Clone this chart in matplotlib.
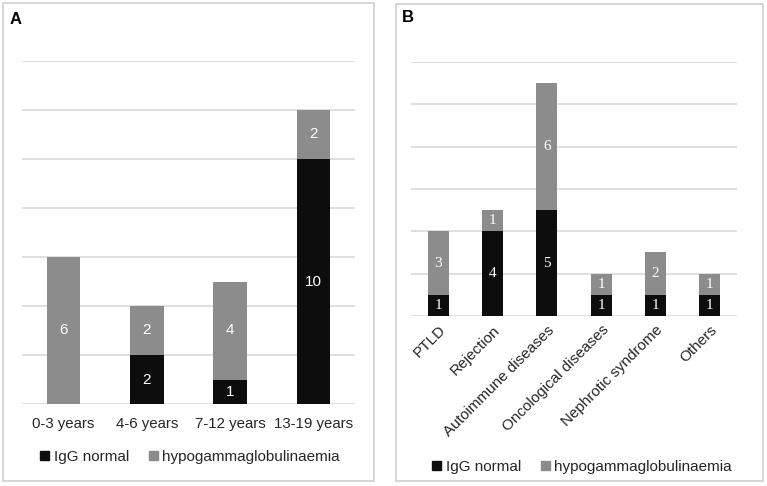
import matplotlib.pyplot as plt
from matplotlib.patches import Rectangle

# panel A data
age_groups = ['0-3 years', '4-6 years', '7-12 years', '13-19 years']
age_normal = [0, 2, 1, 10]
age_hypo = [6, 2, 4, 2]

# panel B data
indications = ['PTLD', 'Rejection', 'Autoimmune diseases', 'Oncological diseases',
               'Nephrotic syndrome', 'Others']
ind_normal = [1, 4, 5, 1, 1, 1]
ind_hypo = [3, 1, 6, 1, 2, 1]

BLACK = '#0d0d0d'
GRAY = '#8c8c8c'
GRID = '#d9d9d9'
W, H = 767, 486

plt.rcParams['font.family'] = ['Liberation Sans', 'DejaVu Sans']
fig = plt.figure(figsize=(W / 100, H / 100), dpi=100)


def px_axes(x0, x1, ytop, ybot):
    return fig.add_axes([x0 / W, (H - ybot) / H, (x1 - x0) / W, (ybot - ytop) / H])


def border(x0, x1, ytop, ybot):
    fig.patches.append(Rectangle((x0 / W, (H - ybot) / H), (x1 - x0) / W, (ybot - ytop) / H,
                                 transform=fig.transFigure, fill=False,
                                 edgecolor='#d0d0d0', linewidth=1.2))


def stacked(ax, cats, normal, hypo, width, ymax, step, label_font):
    x = range(len(cats))
    ax.bar(x, normal, width, color=BLACK, zorder=3)
    ax.bar(x, hypo, width, bottom=normal, color=GRAY, zorder=3)
    for i in x:
        if normal[i] > 0:
            ax.text(i, normal[i] / 2, str(normal[i]), ha='center', va='center',
                    color='white', zorder=4, **label_font)
        if hypo[i] > 0:
            ax.text(i, normal[i] + hypo[i] / 2, str(hypo[i]), ha='center', va='center',
                    color='white', zorder=4, **label_font)
    ax.set_ylim(0, ymax)
    ax.set_xlim(-0.5, len(cats) - 0.5)
    for yv in range(0, ymax + 1, step):
        ax.axhline(yv, color=GRID, linewidth=1.2, zorder=1)
    for s in ax.spines.values():
        s.set_visible(False)
    ax.set_yticks([])
    ax.tick_params(axis='x', length=0)


# panel A
border(3, 374, 3, 481)
fig.text(10 / W, 1 - 20 / H, 'A', fontsize=12, fontweight='bold', ha='left', va='center')
axA = px_axes(22, 355, 61, 404)
stacked(axA, age_groups, age_normal, age_hypo, 0.4, 14, 2,
        {'fontsize': 11, 'family': 'Liberation Sans'})
axA.set_xticks(range(len(age_groups)))
axA.set_xticklabels(age_groups, fontsize=10.8, color='#262626')
axA.tick_params(axis='x', pad=9)

# panel B
border(396, 763, 4, 481)
fig.text(402 / W, 1 - 18 / H, 'B', fontsize=12, fontweight='bold', ha='left', va='center')
axB = px_axes(411, 737, 62, 316)
stacked(axB, indications, ind_normal, ind_hypo, 0.39, 12, 2,
        {'fontsize': 11, 'family': 'Liberation Serif'})
axB.set_xticks(range(len(indications)))
axB.set_xticklabels(indications, fontsize=11, color='#262626', rotation=45,
                    ha='right', rotation_mode='anchor')
axB.tick_params(axis='x', pad=5)

# legends
for cx, cy in [(190, 457), (582, 467)]:
    handles = [Rectangle((0, 0), 1, 1, color=BLACK), Rectangle((0, 0), 1, 1, color=GRAY)]
    fig.legend(handles, ['IgG normal', 'hypogammaglobulinaemia'], loc='center',
               bbox_to_anchor=(cx / W, 1 - cy / H), ncol=2, frameon=False, fontsize=11,
               handlelength=0.6, handleheight=0.6, handletextpad=0.3, columnspacing=1.3,
               labelcolor='#262626')

fig.savefig('out.png', dpi=100)
